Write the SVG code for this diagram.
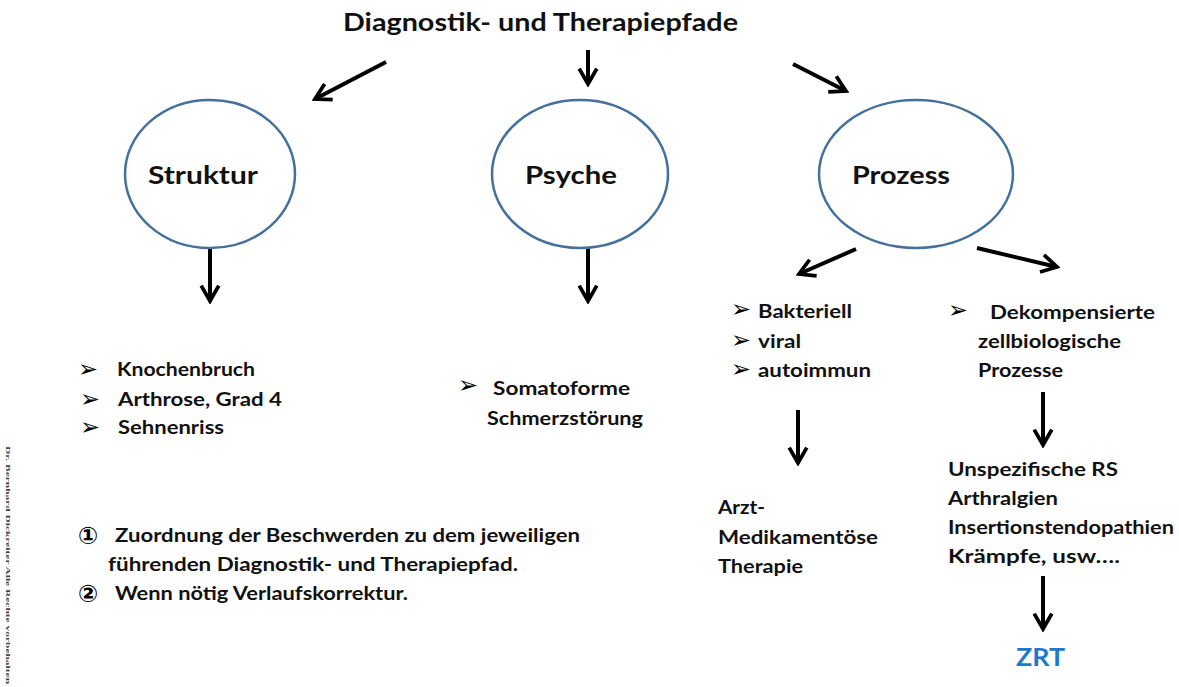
<svg xmlns="http://www.w3.org/2000/svg" width="1179" height="687" viewBox="0 0 1179 687">
<defs>
<marker id="ah" viewBox="0 0 20 20" refX="17" refY="10" markerWidth="5.5" markerHeight="5.5" markerUnits="strokeWidth" orient="auto">
<path d="M3,2 L17,10 L3,18" fill="none" stroke="#000" stroke-width="3.4" stroke-linejoin="miter"/>
</marker>
</defs>
<style>
text{font-family:Lato,"Open Sans","Liberation Sans",sans-serif;font-weight:bold;fill:#111;}
.t{font-size:25px;}
.n{font-size:24px;}
.l{font-size:19.5px;}
.b{font-size:24px;font-family:"DejaVu Sans",sans-serif;font-weight:normal;fill:#000;}
.z{font-size:24px;fill:#1f78c8;}
.c{font-size:24px;font-family:"DejaVu Sans","Noto Sans CJK SC",sans-serif;fill:#000;}
.w{font-size:7px;font-family:"Liberation Serif",serif;font-weight:bold;fill:#444;}
ellipse{fill:#fff;stroke:#44709c;stroke-width:2.5;}
.a{stroke:#000;stroke-width:4;fill:none;marker-end:url(#ah);}
</style>
<rect width="1179" height="687" fill="#fff"/>
<text class="t" x="343" y="31" textLength="395" lengthAdjust="spacingAndGlyphs">Diagnostik- und Therapiepfade</text>
<g id="connectors">
<line class="a" x1="386" y1="62" x2="315" y2="99"/>
<line class="a" x1="588" y1="50" x2="588" y2="84"/>
<line class="a" x1="793" y1="64" x2="846" y2="91"/>
<line class="a" x1="210" y1="248" x2="210" y2="301"/>
<line class="a" x1="588" y1="248" x2="588" y2="301"/>
<line class="a" x1="856" y1="249" x2="799" y2="274"/>
<line class="a" x1="977" y1="248" x2="1057" y2="267"/>
<line class="a" x1="798" y1="410" x2="798" y2="463"/>
<line class="a" x1="1043" y1="392" x2="1043" y2="445"/>
<line class="a" x1="1043" y1="576" x2="1043" y2="629"/>
</g>
<g id="struktur">
<ellipse cx="210" cy="174" rx="85" ry="74"/>
<text class="n" x="148" y="184" textLength="110" lengthAdjust="spacingAndGlyphs">Struktur</text>
</g>
<g id="psyche">
<ellipse cx="580" cy="174" rx="88" ry="74"/>
<text class="n" x="525" y="184" textLength="92" lengthAdjust="spacingAndGlyphs">Psyche</text>
</g>
<g id="prozess">
<ellipse cx="916" cy="174" rx="97" ry="74"/>
<text class="n" x="852" y="184" textLength="98" lengthAdjust="spacingAndGlyphs">Prozess</text>
</g>
<g id="struktur-liste">
<text class="b" x="78" y="377" textLength="20" lengthAdjust="spacingAndGlyphs">➢</text>
<text class="l" x="117" y="376" textLength="138" lengthAdjust="spacingAndGlyphs">Knochenbruch</text>
<text class="b" x="80" y="407" textLength="20" lengthAdjust="spacingAndGlyphs">➢</text>
<text class="l" x="118" y="406" textLength="164" lengthAdjust="spacingAndGlyphs">Arthrose, Grad 4</text>
<text class="b" x="80" y="435" textLength="20" lengthAdjust="spacingAndGlyphs">➢</text>
<text class="l" x="118" y="434" textLength="106" lengthAdjust="spacingAndGlyphs">Sehnenriss</text>
</g>
<g id="psyche-liste">
<text class="b" x="458" y="393" textLength="20" lengthAdjust="spacingAndGlyphs">➢</text>
<text class="l" x="493" y="395" textLength="137" lengthAdjust="spacingAndGlyphs">Somatoforme</text>
<text class="l" x="487" y="425" textLength="156" lengthAdjust="spacingAndGlyphs">Schmerzstörung</text>
</g>
<g id="erreger">
<text class="b" x="731" y="317" textLength="20" lengthAdjust="spacingAndGlyphs">➢</text>
<text class="l" x="758" y="318" textLength="94" lengthAdjust="spacingAndGlyphs">Bakteriell</text>
<text class="b" x="731" y="348" textLength="20" lengthAdjust="spacingAndGlyphs">➢</text>
<text class="l" x="758" y="348" textLength="43" lengthAdjust="spacingAndGlyphs">viral</text>
<text class="b" x="731" y="377" textLength="20" lengthAdjust="spacingAndGlyphs">➢</text>
<text class="l" x="758" y="377" textLength="113" lengthAdjust="spacingAndGlyphs">autoimmun</text>
</g>
<g id="dekompensiert">
<text class="b" x="948" y="318" textLength="20" lengthAdjust="spacingAndGlyphs">➢</text>
<text class="l" x="990" y="319" textLength="165" lengthAdjust="spacingAndGlyphs">Dekompensierte</text>
<text class="l" x="978" y="348" textLength="143" lengthAdjust="spacingAndGlyphs">zellbiologische</text>
<text class="l" x="978" y="377" textLength="85" lengthAdjust="spacingAndGlyphs">Prozesse</text>
</g>
<g id="therapie">
<text class="l" x="718" y="514" textLength="47" lengthAdjust="spacingAndGlyphs">Arzt-</text>
<text class="l" x="718" y="544" textLength="160" lengthAdjust="spacingAndGlyphs">Medikamentöse</text>
<text class="l" x="718" y="573" textLength="85" lengthAdjust="spacingAndGlyphs">Therapie</text>
</g>
<g id="symptome">
<text class="l" x="948" y="476" textLength="170" lengthAdjust="spacingAndGlyphs">Unspezifische  RS</text>
<text class="l" x="948" y="505" textLength="110" lengthAdjust="spacingAndGlyphs">Arthralgien</text>
<text class="l" x="948" y="534" textLength="226" lengthAdjust="spacingAndGlyphs">Insertionstendopathien</text>
<text class="l" x="948" y="563" textLength="172" lengthAdjust="spacingAndGlyphs">Krämpfe, usw….</text>
</g>
<g id="zrt">
<text class="z" x="1016" y="666" textLength="49" lengthAdjust="spacingAndGlyphs">ZRT</text>
</g>
<g id="hinweise">
<text class="c" x="78" y="544">①</text>
<text class="l" x="115" y="542" textLength="465" lengthAdjust="spacingAndGlyphs">Zuordnung der Beschwerden zu dem jeweiligen</text>
<text class="l" x="108" y="571" textLength="410" lengthAdjust="spacingAndGlyphs">führenden  Diagnostik- und Therapiepfad.</text>
<text class="c" x="78" y="602">②</text>
<text class="l" x="115" y="600" textLength="293" lengthAdjust="spacingAndGlyphs">Wenn nötig Verlaufskorrektur.</text>
</g>
<text class="w" transform="translate(6,446) rotate(90)" textLength="238" lengthAdjust="spacingAndGlyphs">Dr. Bernhard Dickreiter  Alle  Rechte vorbehalten</text>
</svg>
